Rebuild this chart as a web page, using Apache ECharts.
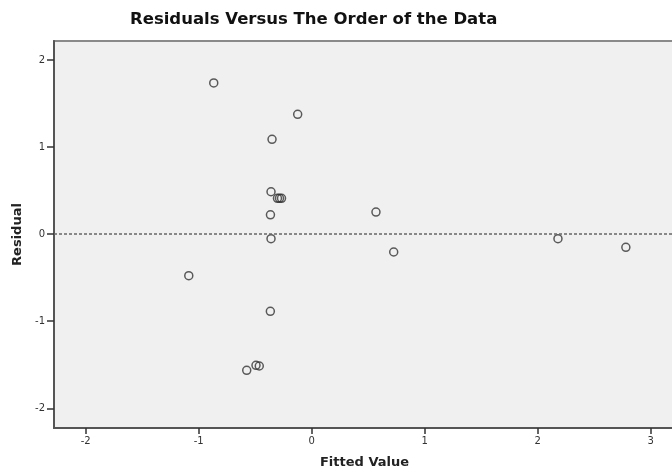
<!DOCTYPE html>
<html>
<head>
<meta charset="utf-8">
<script src="https://cdn.jsdelivr.net/npm/echarts@6/dist/echarts.min.js"></script>
<style>html,body{margin:0;padding:0;background:#fff}#c{width:672px;height:468px}</style>
</head>
<body>
<div id="c"></div>
<script>
var titleText = 'Residuals Versus The Order of the Data';
var xName = 'Fitted Value';
var yName = 'Residual';
var fitted = [-0.867, -0.124, -0.351, -0.360, -0.303, -0.285, -0.267, -0.365, -0.360, 0.569, 0.726, 2.180, 2.781, -1.088, -0.366, -0.575, -0.493, -0.464];
var residual = [1.736, 1.376, 1.089, 0.487, 0.412, 0.412, 0.412, 0.222, -0.052, 0.254, -0.205, -0.052, -0.151, -0.477, -0.886, -1.564, -1.506, -1.514];
var xTicks = [-2, -1, 0, 1, 2, 3];
var yTicks = [-2, -1, 0, 1, 2];

var points = fitted.map(function (v, i) { return [v, residual[i]]; });
var chart = echarts.init(document.getElementById('c'), null, {renderer: 'canvas'});
var labelFont = {fontFamily: 'DejaVu Sans', fontSize: 10, color: '#333'};
chart.setOption({
  animation: false,
  backgroundColor: '#fff',
  title: {
    text: titleText, left: 125, top: 6,
    textStyle: {fontFamily: 'DejaVu Sans', fontWeight: 'bold', fontSize: 16.5, color: '#111'}
  },
  grid: {left: 54, top: 41, right: -3, bottom: 40, outerBoundsMode: 'none', containLabel: false, show: true, backgroundColor: '#f0f0f0', borderColor: '#8a8a8a', borderWidth: 2},
  xAxis: {
    type: 'value', min: -2.281, max: 3.216,
    name: xName, nameLocation: 'middle', nameGap: 28,
    nameTextStyle: {fontFamily: 'DejaVu Sans', fontWeight: 'bold', fontSize: 13, color: '#222'},
    splitLine: {show: false},
    axisLine: {show: true, onZero: false, lineStyle: {color: '#555', width: 2}},
    axisTick: {show: true, length: 6, lineStyle: {color: '#333', width: 1.5}, customValues: xTicks},
    axisLabel: Object.assign({margin: 8, customValues: xTicks}, labelFont)
  },
  yAxis: {
    type: 'value', min: -2.226, max: 2.218,
    name: yName, nameLocation: 'middle', nameGap: 30, nameRotate: 90,
    nameTextStyle: {fontFamily: 'DejaVu Sans', fontWeight: 'bold', fontSize: 13, color: '#222'},
    splitLine: {show: false},
    axisLine: {show: true, onZero: false, lineStyle: {color: '#555', width: 2}},
    axisTick: {show: true, length: 7, lineStyle: {color: '#333', width: 1.5}, customValues: yTicks},
    axisLabel: Object.assign({margin: 9, customValues: yTicks}, labelFont)
  },
  series: [{
    type: 'scatter',
    data: points,
    symbol: 'circle',
    symbolSize: 8,
    itemStyle: {color: 'rgba(0,0,0,0)', borderColor: '#333', borderWidth: 1.5},
    markLine: {
      silent: true, symbol: 'none',
      label: {show: false},
      lineStyle: {color: '#666', type: [3, 2], width: 1.5},
      data: [{yAxis: 0}]
    },
    z: 3
  }]
});
</script>
</body>
</html>
